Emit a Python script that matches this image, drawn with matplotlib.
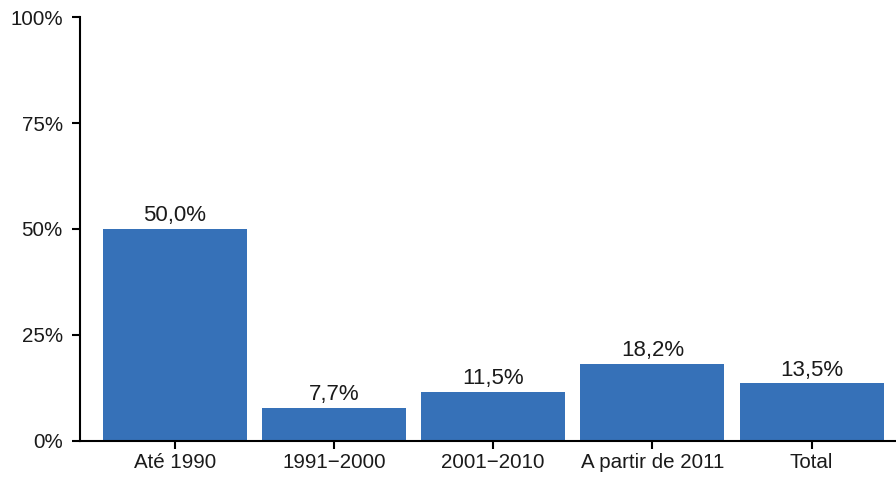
import matplotlib
matplotlib.use("Agg")
import matplotlib.pyplot as plt

categories = ["Até 1990", "1991\u22122000", "2001\u22122010", "A partir de 2011", "Total"]
values = [50.0, 7.7, 11.5, 18.2, 13.5]
labels = ["50,0%", "7,7%", "11,5%", "18,2%", "13,5%"]
yticks = [0, 25, 50, 75, 100]
yticklabels = ["0%", "25%", "50%", "75%", "100%"]

plt.rcParams['font.family'] = ['Liberation Sans', 'DejaVu Sans']

fig = plt.figure(figsize=(8.96, 4.79), dpi=100)
ax = fig.add_axes([80/896, (479-440.5)/479, 1 - 80/896, (440.5-17.5)/479])

x = list(range(len(categories)))
ax.bar(x, values, width=0.905, color="#3671b8")
for xi, v, lab in zip(x, values, labels):
    ax.annotate(lab, (xi, v), xytext=(0, 2), textcoords="offset points",
                ha="center", va="bottom", fontsize=16, color="#1a1a1a")

ax.set_xlim(-0.595, 4.53)
ax.set_ylim(0, 100)
ax.set_xticks(x)
ax.set_xticklabels(categories)
ax.set_yticks(yticks)
ax.set_yticklabels(yticklabels)

for s in ["top", "right"]:
    ax.spines[s].set_visible(False)
for s in ["left", "bottom"]:
    ax.spines[s].set_linewidth(1.5)
ax.tick_params(axis="both", length=6, width=1.5, labelsize=14.8, colors="black",
               labelcolor="#1a1a1a")
ax.tick_params(axis="x", pad=3)
ax.tick_params(axis="y", pad=6.5)

fig.savefig("out.png", dpi=100)
